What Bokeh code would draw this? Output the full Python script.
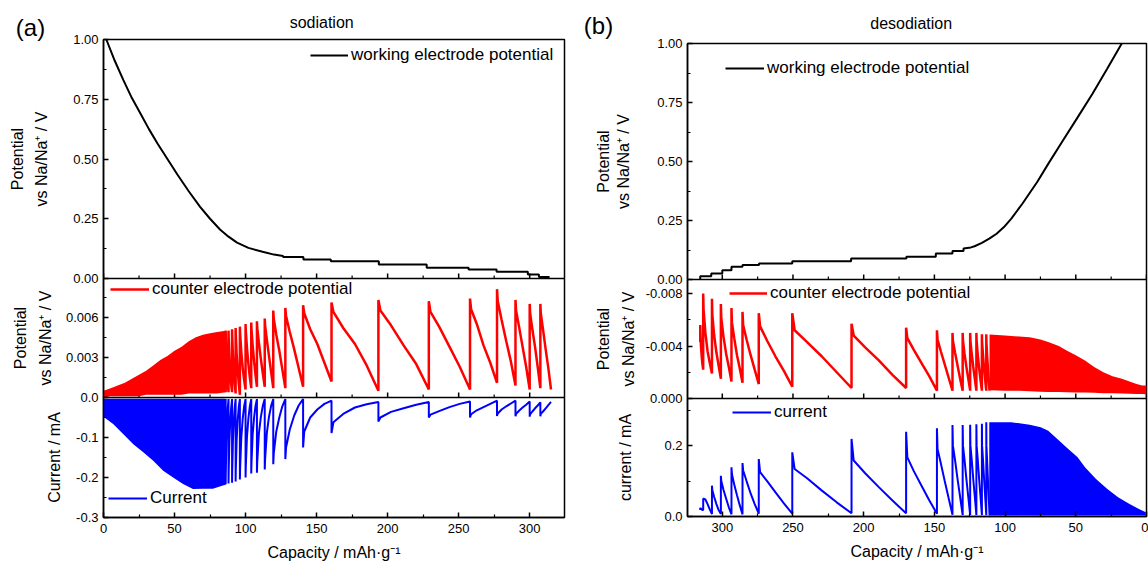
import math
from bokeh.plotting import figure
from bokeh.models import Range1d, FixedTicker, Legend, LegendItem, Span
from bokeh.core.properties import value
from bokeh.layouts import row, column
from bokeh.embed import file_html
from bokeh.resources import INLINE

FONT = "Liberation Sans"
RED = "#ff0000"
BLUE = "#0000ff"

# ---------------- data: panel (a) sodiation ----------------
x_major = [0, 50, 100, 150, 200, 250, 300]
x_minor = [25, 75, 125, 175, 225, 275, 325]

wa_cap = [2, 8, 14, 20, 26, 32, 38, 45, 52, 60, 68, 75, 82, 88, 94, 102, 112, 120, 126.4,
          126.4, 140.7, 140.7, 160, 160, 193.8, 193.8, 227.5, 227.5, 257, 257,
          276.7, 276.7, 298.7, 298.7, 306.5, 306.5, 314]
wa_v = [1.0, 0.91, 0.83, 0.755, 0.69, 0.625, 0.565, 0.50, 0.435, 0.365, 0.30, 0.25, 0.205,
        0.175, 0.15, 0.128, 0.112, 0.10, 0.094,
        0.090, 0.090, 0.080, 0.080, 0.072, 0.072, 0.059, 0.059, 0.045, 0.045, 0.038,
        0.038, 0.028, 0.028, 0.017, 0.017, 0.006, 0.006]

ra_env_cap = [0, 5, 10, 15, 20, 25, 30, 35, 40, 45, 50, 55, 60, 65, 70, 75, 80, 86]
ra_env_hi = [0.0005, 0.0007, 0.0009, 0.0011, 0.0014, 0.0017, 0.0020, 0.0024, 0.0028,
             0.0031, 0.0035, 0.0038, 0.0042, 0.0045, 0.0047, 0.0048, 0.0049, 0.0050]
ra_env_lo = [0.0000, 0.0001, 0.0001, 0.0001, 0.0001, 0.0001, 0.0002, 0.0002, 0.0002,
             0.0002, 0.0002, 0.0002, 0.0003, 0.0003, 0.0003, 0.0003, 0.0003, 0.0004]

ra_s = [86, 88, 90.5, 93, 96, 100, 104, 108, 113.5, 119.5, 128, 140.5, 160.5, 193.5,
        229, 258, 277, 290, 300, 307.5]
ra_end = 315
ra_start = 0.0004
ra_pk = [0.0050, 0.0050, 0.0051, 0.0052, 0.0053, 0.0055, 0.0056, 0.0057, 0.0059, 0.0065,
         0.0067, 0.0069, 0.0071, 0.0073, 0.0072, 0.0074, 0.0081, 0.0073, 0.0070, 0.0070]
ra_sh = [0.0045, 0.0045, 0.0046, 0.0047, 0.0048, 0.0050, 0.0051, 0.0052, 0.0054, 0.0059,
         0.0061, 0.0063, 0.0064, 0.0065, 0.0064, 0.0066, 0.0072, 0.0065, 0.0063, 0.0063]
ra_q1 = [0.0030, 0.0030, 0.0031, 0.0032, 0.0034, 0.0037, 0.0039, 0.0041, 0.0043, 0.0047,
         0.0049, 0.0051, 0.0052, 0.0054, 0.0053, 0.0055, 0.0058, 0.0053, 0.0051, 0.0051]
ra_q2 = [0.0018, 0.0018, 0.0019, 0.0020, 0.0022, 0.0025, 0.0027, 0.0029, 0.0031, 0.0035,
         0.0036, 0.0040, 0.0040, 0.0039, 0.0038, 0.0039, 0.0042, 0.0038, 0.0038, 0.0036]
ra_q3 = [0.0010, 0.0010, 0.0010, 0.0010, 0.0013, 0.0015, 0.0017, 0.0018, 0.0019, 0.0021,
         0.0022, 0.0026, 0.0024, 0.0025, 0.0023, 0.0026, 0.0027, 0.0023, 0.0023, 0.0022]
ra_tr = [0.0004, 0.0004, 0.0003, 0.0002, 0.0006, 0.0007, 0.0008, 0.0008, 0.0007, 0.0007,
         0.0008, 0.0012, 0.0005, 0.0006, 0.0006, 0.0011, 0.0009, 0.0006, 0.0007, 0.0006]

ca_env_cap = [0, 7, 14, 21, 28, 35, 42, 49, 56, 63, 70, 77, 84, 86]
ca_env_lo = [-0.048, -0.067, -0.092, -0.117, -0.137, -0.158, -0.183, -0.200, -0.216,
             -0.229, -0.228, -0.228, -0.220, -0.218]
ca_env_hi = [-0.003, -0.003, -0.003, -0.003, -0.003, -0.003, -0.003, -0.003, -0.003,
             -0.003, -0.003, -0.003, -0.003, -0.003]
ca_start = -0.004
ca_pk = [-0.217, -0.215, -0.213, -0.210, -0.205, -0.200, -0.190, -0.188, -0.180, -0.167,
         -0.154, -0.125, -0.089, -0.060, -0.050, -0.050, -0.046, -0.047, -0.048, -0.047]
ca_sh = [-0.190, -0.188, -0.186, -0.183, -0.178, -0.173, -0.165, -0.162, -0.155, -0.140,
         -0.125, -0.085, -0.062, -0.050, -0.043, -0.042, -0.040, -0.041, -0.042, -0.041]
ca_q1 = [-0.110, -0.108, -0.106, -0.104, -0.100, -0.097, -0.092, -0.090, -0.088, -0.085,
         -0.080, -0.050, -0.041, -0.036, -0.034, -0.032, -0.030, -0.033, -0.035, -0.035]
ca_q2 = [-0.060, -0.058, -0.057, -0.055, -0.053, -0.052, -0.050, -0.049, -0.048, -0.050,
         -0.045, -0.030, -0.025, -0.027, -0.024, -0.024, -0.022, -0.025, -0.027, -0.027]
ca_q3 = [-0.025, -0.025, -0.024, -0.023, -0.022, -0.022, -0.021, -0.021, -0.021, -0.022,
         -0.020, -0.016, -0.017, -0.018, -0.016, -0.016, -0.015, -0.018, -0.020, -0.019]
ca_tr = [-0.004, -0.004, -0.004, -0.004, -0.004, -0.004, -0.004, -0.004, -0.004, -0.004,
         -0.004, -0.008, -0.011, -0.011, -0.010, -0.008, -0.008, -0.010, -0.012, -0.011]

# ---------------- data: panel (b) desodiation ----------------
wb_cap = [315.6, 315.6, 307.8, 307.8, 300, 300, 293.5, 293.5, 285.7, 285.7, 274, 274,
          250.5, 250.5, 208.9, 208.9, 169.8, 169.8, 149, 149, 137.2, 137.2, 129.4, 129.4,
          124.2, 121.6, 116.4, 111.2, 106, 100.8, 95.6, 87.8, 77.3, 69.5, 59.1, 48.7,
          38.3, 27.9, 17.5]
wb_v = [0.0, 0.014, 0.014, 0.025, 0.025, 0.039, 0.039, 0.054, 0.054, 0.061, 0.061, 0.068,
        0.068, 0.077, 0.077, 0.089, 0.089, 0.096, 0.096, 0.110, 0.110, 0.121, 0.121, 0.131,
        0.136, 0.141, 0.155, 0.173, 0.194, 0.222, 0.258, 0.321, 0.413, 0.490, 0.589, 0.687,
        0.786, 0.892, 1.0]

rb_s = [315.6, 313.5, 307.3, 301, 293.5, 285.7, 274.2, 250.5, 208.6, 170, 148.2, 137.2,
        130, 124.7, 120.3, 116.4, 113.3]
rb_end = 111
rb_start = -0.0043
rb_pk = [-0.0056, -0.0080, -0.0076, -0.0072, -0.0069, -0.0066, -0.0065, -0.0065, -0.0057,
         -0.0054, -0.0052, -0.0050, -0.0050, -0.0050, -0.0050, -0.0049, -0.0049]
rb_sh = [-0.0050, -0.0068, -0.0064, -0.0061, -0.0058, -0.0056, -0.0055, -0.0052, -0.0048,
         -0.0046, -0.0045, -0.0044, -0.0044, -0.0044, -0.0044, -0.0043, -0.0043]
rb_q1 = [-0.0040, -0.0050, -0.0048, -0.0047, -0.0046, -0.0045, -0.0044, -0.0043, -0.0039,
         -0.0037, -0.0036, -0.0035, -0.0034, -0.0034, -0.0033, -0.0033, -0.0033]
rb_q2 = [-0.0032, -0.0036, -0.0035, -0.0034, -0.0033, -0.0033, -0.0032, -0.0032, -0.0029,
         -0.0027, -0.0026, -0.0025, -0.0024, -0.0024, -0.0023, -0.0023, -0.0023]
rb_q3 = [-0.0026, -0.0027, -0.0025, -0.0024, -0.0023, -0.0022, -0.0021, -0.0020, -0.0018,
         -0.0017, -0.0016, -0.0015, -0.0015, -0.0015, -0.0014, -0.0014, -0.0014]
rb_tr = [-0.0022, -0.0019, -0.0015, -0.0013, -0.0012, -0.0011, -0.0009, -0.0008, -0.0008,
         -0.0006, -0.0006, -0.0006, -0.0006, -0.0006, -0.0006, -0.0006, -0.0006]

rb_env_cap = [111, 100, 95.6, 90, 82.6, 75, 69.5, 62, 56.5, 50, 43.5, 37, 30.5, 24, 17.4,
              12, 7, 3, 0]
rb_env_hi = [-0.00487, -0.00480, -0.00477, -0.00472, -0.00467, -0.00450, -0.00430,
             -0.00400, -0.00366, -0.00330, -0.00290, -0.00240, -0.00200, -0.00170,
             -0.00150, -0.00130, -0.00110, -0.00100, -0.00100]
rb_env_lo = [-0.00063, -0.00060, -0.00060, -0.00060, -0.00055, -0.00052, -0.00050,
             -0.00050, -0.00048, -0.00046, -0.00045, -0.00043, -0.00040, -0.00040,
             -0.00038, -0.00036, -0.00035, -0.00034, -0.00033]

cb_start = 0.018
cb_pk = [0.025, 0.050, 0.087, 0.115, 0.139, 0.151, 0.162, 0.181, 0.219, 0.239, 0.249,
         0.258, 0.258, 0.259, 0.260, 0.262, 0.266]
cb_sh = [0.023, 0.050, 0.075, 0.100, 0.120, 0.130, 0.125, 0.134, 0.158, 0.167, 0.190,
         0.200, 0.200, 0.200, 0.200, 0.200, 0.200]
cb_q1 = [0.022, 0.048, 0.055, 0.075, 0.090, 0.100, 0.100, 0.108, 0.122, 0.128, 0.150,
         0.160, 0.160, 0.160, 0.160, 0.160, 0.160]
cb_q2 = [0.020, 0.035, 0.035, 0.050, 0.060, 0.065, 0.068, 0.073, 0.083, 0.087, 0.100,
         0.105, 0.105, 0.105, 0.105, 0.105, 0.105]
cb_q3 = [0.018, 0.020, 0.018, 0.026, 0.032, 0.035, 0.037, 0.040, 0.045, 0.046, 0.052,
         0.055, 0.055, 0.055, 0.055, 0.055, 0.055]
cb_tr = [0.018, 0.007, 0.007, 0.006, 0.006, 0.008, 0.008, 0.009, 0.009, 0.008, 0.005,
         0.004, 0.004, 0.004, 0.004, 0.004, 0.004]
cb_env_cap = [111.2, 100.8, 95.6, 82.6, 74.8, 69.5, 61.7, 56.5, 48.7, 43.5, 35.7, 27.9,
              20.1, 12.3, 5.7, 0.5]
cb_env_hi = [0.266, 0.266, 0.266, 0.259, 0.252, 0.242, 0.214, 0.195, 0.167, 0.139, 0.106,
             0.078, 0.054, 0.036, 0.022, 0.012]
cb_env_lo = [0.003, 0.003, 0.003, 0.003, 0.003, 0.003, 0.003, 0.003, 0.003, 0.003, 0.003,
             0.003, 0.003, 0.003, 0.003, 0.003]

# y tick labels per sub-panel
we_ticks = [0.0, 0.25, 0.5, 0.75, 1.0]
we_labels = ["0.00", "0.25", "0.50", "0.75", "1.00"]
we_minor = [0.125, 0.375, 0.625, 0.875]
ca_a_ticks = [0.0, 0.003, 0.006]
ca_a_labels = ["0.0", "0.003", "0.006"]
ca_a_minor = [0.0015, 0.0045, 0.0075]
cu_a_ticks = [-0.3, -0.2, -0.1]
cu_a_labels = ["-0.3", "-0.2", "-0.1"]
cu_a_minor = [-0.25, -0.15, -0.05]
ce_b_ticks = [0.0, -0.004, -0.008]
ce_b_labels = ["0.000", "-0.004", "-0.008"]
ce_b_minor = [-0.002, -0.006]
cu_b_ticks = [0.0, 0.2]
cu_b_labels = ["0.0", "0.2"]
cu_b_minor = [0.1, 0.3]


def teeth(starts, end, start_val, pk, sh, q1, q2, q3, tr):
    xs, ys = [], []
    bounds = list(starts) + [end]
    prev = start_val
    for i, s in enumerate(starts):
        L = bounds[i + 1] - s
        xs += [s, s, s + 0.04 * L, s + 0.25 * L, s + 0.5 * L, s + 0.75 * L, s + L]
        ys += [prev, pk[i], sh[i], q1[i], q2[i], q3[i], tr[i]]
        prev = tr[i]
    return xs, ys


def band_range(b0, b1, v0, v1, H):
    k = (v1 - v0) / (b1 - b0)
    return Range1d(start=v0 - b0 * k, end=v0 + (H - b0) * k)


def band_pos(v, b):
    b0, b1, v0, v1 = b
    return round(b0 + (v - v0) / (v1 - v0) * (b1 - b0), 4)


def make_panel(xr, W, H, left, right, top, bottom, bands, yspec):
    p = figure(width=left + W + right, height=top + H + bottom, x_range=xr,
               y_range=Range1d(0, H), output_backend="svg", toolbar_location=None,
               min_border_left=left, min_border_right=right, min_border_top=top,
               min_border_bottom=bottom)
    p.extra_y_ranges = {n: band_range(*b, H) for n, b in bands.items()}
    p.xgrid.visible = False
    p.ygrid.visible = False
    p.outline_line_color = "black"
    p.outline_line_width = 1.5
    p.background_fill_color = "white"
    p.border_fill_color = "white"
    majors, minors, over = [], [], {}
    for name, ticks, labels, minor in yspec:
        for t, lab in zip(ticks, labels):
            pos = band_pos(t, bands[name])
            majors.append(pos)
            over[pos] = lab
        for t in minor:
            minors.append(band_pos(t, bands[name]))
    for ax in p.axis:
        ax.axis_line_width = 1.5
        ax.axis_line_color = "black"
        ax.major_tick_in = 5
        ax.major_tick_out = 0
        ax.minor_tick_in = 3
        ax.minor_tick_out = 0
        ax.major_tick_line_width = 1.5
        ax.minor_tick_line_width = 1.2
        ax.major_tick_line_color = "black"
        ax.minor_tick_line_color = "black"
        ax.major_label_text_font = FONT
        ax.major_label_text_font_size = "13px"
        ax.major_label_text_color = "black"
    ax = p.xaxis[0]
    ax.ticker = FixedTicker(ticks=x_major, minor_ticks=x_minor)
    ax.major_label_standoff = 6
    ax.axis_label = "Capacity / mAh·g⁻¹"
    ax.axis_label_text_font = FONT
    ax.axis_label_text_font_size = "16px"
    ax.axis_label_text_font_style = "normal"
    ax.axis_label_text_color = "black"
    ax.axis_label_standoff = 8
    ay = p.yaxis[0]
    ay.ticker = FixedTicker(ticks=majors, minor_ticks=minors)
    ay.major_label_overrides = over
    ay.major_label_standoff = 5
    for name in ("we", "ce"):
        bpos = bands[name][0]
        p.add_layout(Span(location=bpos, dimension="width", line_color="black",
                          line_width=1.5))
        p.ray(x=x_major, y=[bpos] * len(x_major), length=5, angle=math.pi / 2,
              length_units="screen", line_color="black", line_width=1.5)
        p.ray(x=x_minor, y=[bpos] * len(x_minor), length=3, angle=math.pi / 2,
              length_units="screen", line_color="black", line_width=1.2)
    return p


def text_fig(w, h):
    f = figure(width=w, height=h, x_range=Range1d(0, w), y_range=Range1d(h, 0),
               x_axis_type=None, y_axis_type=None, output_backend="svg",
               toolbar_location=None, min_border=0, min_border_left=0,
               min_border_right=0, min_border_top=0, min_border_bottom=0)
    f.xgrid.visible = False
    f.ygrid.visible = False
    f.outline_line_color = None
    f.background_fill_color = "white"
    f.border_fill_color = "white"
    return f


def put_text(f, x, y, text, size, angle=0.0):
    f.text(x=[x], y=[y], text=[text], angle=angle, text_align="center",
           text_baseline="middle", text_font=value(FONT), text_font_size=value(size),
           text_color="black")


def add_legend(p, r, text, loc, gw):
    lg = Legend(items=[LegendItem(label=text, renderers=[r])], location=loc,
                glyph_width=gw, glyph_height=16, label_height=16, label_standoff=3,
                padding=0, margin=0, spacing=0, background_fill_alpha=0,
                border_line_alpha=0, label_text_font=FONT, label_text_font_size="17px",
                label_text_color="black")
    p.add_layout(lg)


VERT = math.pi / 2
H_ALL = 567

# ---------------- panel (a) ----------------
LAB_A_W = 62
A_LEFT, A_W, A_RIGHT, A_TOP, A_H, A_BOT = 39, 463, 3, 7, 478, 50
STRIP_A_H = 32
xa = Range1d(0, 324.5)
bands_a = {"we": (239, 478, 0.0, 1.0), "ce": (120, 239, 0.0, 0.0089),
           "cur": (0, 120, -0.3, 0.0)}
pa = make_panel(xa, A_W, A_H, A_LEFT, A_RIGHT, A_TOP, A_BOT, bands_a,
                [("we", we_ticks, we_labels, we_minor),
                 ("ce", ca_a_ticks, ca_a_labels, ca_a_minor),
                 ("cur", cu_a_ticks, cu_a_labels, cu_a_minor)])

r_wa = pa.line(wa_cap, wa_v, y_range_name="we", line_color="black", line_width=2)
pa.varea(x=ra_env_cap, y1=ra_env_lo, y2=ra_env_hi, y_range_name="ce", fill_color=RED)
rx, ry = teeth(ra_s, ra_end, ra_start, ra_pk, ra_sh, ra_q1, ra_q2, ra_q3, ra_tr)
r_ra = pa.line(rx, ry, y_range_name="ce", line_color=RED, line_width=2.5)
pa.varea(x=ca_env_cap, y1=ca_env_lo, y2=ca_env_hi, y_range_name="cur", fill_color=BLUE)
cx, cy = teeth(ra_s, ra_end, ca_start, ca_pk, ca_sh, ca_q1, ca_q2, ca_q3, ca_tr)
r_ca = pa.line(cx, cy, y_range_name="cur", line_color=BLUE, line_width=2)

add_legend(pa, r_wa, "working electrode potential", (207, 452), 38)
add_legend(pa, r_ra, "counter electrode potential", (7, 218), 39)
add_legend(pa, r_ca, "Current", (5, 9), 39)

lab_a = text_fig(LAB_A_W, H_ALL)
put_text(lab_a, 30, 27, "(a)", "24px")
put_text(lab_a, 17, 158.5, "Potential", "16px", VERT)
put_text(lab_a, 41, 158.5, "vs Na/Na⁺ / V", "16px", VERT)
put_text(lab_a, 20, 337.5, "Potential", "16px", VERT)
put_text(lab_a, 45, 337.5, "vs Na/Na⁺ / V", "16px", VERT)
put_text(lab_a, 54, 457, "Current / mA", "16px", VERT)

strip_a = text_fig(A_LEFT + A_W + A_RIGHT, STRIP_A_H)
put_text(strip_a, 301 - LAB_A_W, 21.5, "sodiation", "16px")

# ---------------- panel (b) ----------------
B_X0 = LAB_A_W + A_LEFT + A_W + A_RIGHT
LAB_B_W = 70
B_LEFT, B_W, B_RIGHT, B_TOP, B_H, B_BOT = 50, 459, 2, 7, 473, 51
STRIP_B_H = 36
xb = Range1d(324.6, 0)
bands_b = {"we": (237, 473, 0.0, 1.0), "ce": (118, 237, 0.0, -0.00907),
           "cur": (0, 118, 0.0, 0.333)}
pb = make_panel(xb, B_W, B_H, B_LEFT, B_RIGHT, B_TOP, B_BOT, bands_b,
                [("we", we_ticks, we_labels, we_minor),
                 ("ce", ce_b_ticks, ce_b_labels, ce_b_minor),
                 ("cur", cu_b_ticks, cu_b_labels, cu_b_minor)])

r_wb = pb.line(wb_cap, wb_v, y_range_name="we", line_color="black", line_width=2)
pb.varea(x=rb_env_cap, y1=rb_env_lo, y2=rb_env_hi, y_range_name="ce", fill_color=RED)
bx, by = teeth(rb_s, rb_end, rb_start, rb_pk, rb_sh, rb_q1, rb_q2, rb_q3, rb_tr)
r_rb = pb.line(bx, by, y_range_name="ce", line_color=RED, line_width=2.5)
pb.varea(x=cb_env_cap, y1=cb_env_lo, y2=cb_env_hi, y_range_name="cur", fill_color=BLUE)
dx, dy = teeth(rb_s, rb_end, cb_start, cb_pk, cb_sh, cb_q1, cb_q2, cb_q3, cb_tr)
r_cb = pb.line(dx, dy, y_range_name="cur", line_color=BLUE, line_width=2)

add_legend(pb, r_wb, "working electrode potential", (38, 438), 39)
add_legend(pb, r_rb, "counter electrode potential", (42, 213), 38)
add_legend(pb, r_cb, "current", (45, 94), 39)

lab_b = text_fig(LAB_B_W, H_ALL)
put_text(lab_b, 598 - B_X0, 25, "(b)", "24px")
put_text(lab_b, 603 - B_X0, 161, "Potential", "16px", VERT)
put_text(lab_b, 623 - B_X0, 161, "vs Na/Na⁺ / V", "16px", VERT)
put_text(lab_b, 603 - B_X0, 338.5, "Potential", "16px", VERT)
put_text(lab_b, 628 - B_X0, 338.5, "vs Na/Na⁺ / V", "16px", VERT)
put_text(lab_b, 625 - B_X0, 457, "current / mA", "16px", VERT)

strip_b = text_fig(B_LEFT + B_W + B_RIGHT, STRIP_B_H)
put_text(strip_b, 886 - B_X0 - LAB_B_W, 23, "desodiation", "16px")

layout = row(lab_a, column(strip_a, pa), lab_b, column(strip_b, pb))
open("out.html", "w").write(file_html(layout, INLINE))
